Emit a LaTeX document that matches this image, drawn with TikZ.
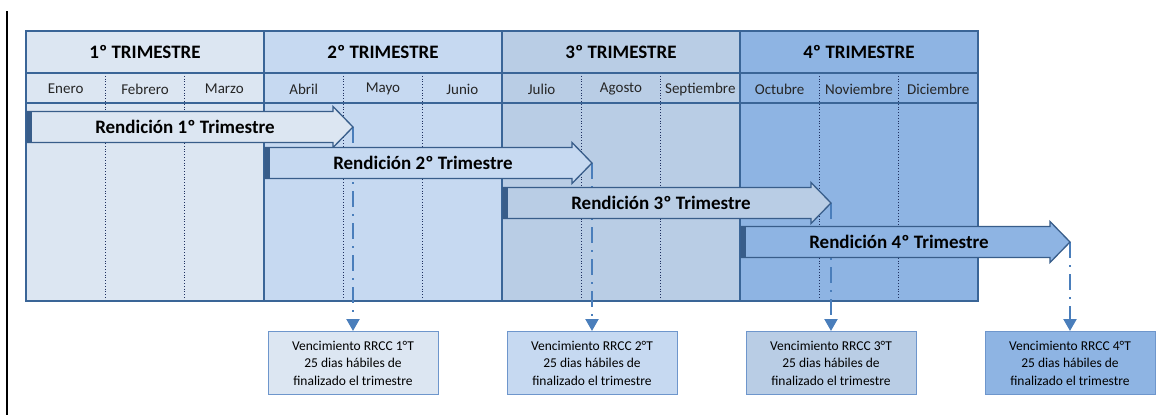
\documentclass[tikz,border=0pt]{standalone}
\usepackage{fontspec}
\setmainfont{Carlito}
\usetikzlibrary{positioning,arrows.meta}
\definecolor{qa}{HTML}{DCE6F2}
\definecolor{qb}{HTML}{C6D9F1}
\definecolor{qc}{HTML}{B9CDE5}
\definecolor{qd}{HTML}{8EB4E3}
\definecolor{gridline}{HTML}{3A6597}
\definecolor{arrline}{HTML}{385D8A}
\definecolor{vline}{HTML}{4A7EBB}
\definecolor{boxline}{HTML}{6E96CC}
\definecolor{monthdiv}{HTML}{1F3060}
\begin{document}
\begin{tikzpicture}[x=1pt,y=-1pt,
  qtitle/.style={font=\bfseries\fontsize{19}{21}\selectfont},
  mname/.style={font=\fontsize{15}{17}\selectfont,text=black!85},
  rlabel/.style={font=\bfseries\fontsize{19}{21}\selectfont},
  rarrow/.style={draw=arrline,line width=1.3pt},
  vto/.style={draw=vline,line width=2.2pt,dash pattern=on 16pt off 7pt on 2pt off 7pt,-{Triangle[width=13pt,length=12pt]}},
  vbox/.style={draw=boxline,line width=1pt,minimum width=170pt,minimum height=63pt,align=center,inner sep=2pt,font=\fontsize{13.5}{17.5}\selectfont}]
\useasboundingbox (0,0) rectangle (1162,415);
\def \w{79.33}

% quarters
\foreach \q/\c [count=\i from 0] in {1/qa,2/qb,3/qc,4/qd}{
\fill[\c] (26+3*\w*\i,31) rectangle (26+3*\w*\i+3*\w,301);
\node[qtitle] (q\q) at (26+3*\w*\i+1.5*\w,52) {\q{}º TRIMESTRE};
}

% months
\foreach \m [count=\k] in {Enero,Febrero,Marzo,Abril,Mayo,Junio,Julio,Agosto,Septiembre,Octubre,Noviembre,Diciembre}{
\node[mname] (m\k) at (26+\w*\k-0.5*\w,89) {\m};
}
\foreach \k in {1,2,4,5,7,8,10,11}{
\draw[monthdiv,dotted,line width=0.8pt] (26+\w*\k,73)--(26+\w*\k,301);
}

% grid
\draw[gridline,line width=2pt] (26,31) rectangle (26+12*\w,301);
\draw[gridline,line width=2pt] (26,73)--(26+12*\w,73);
\draw[gridline,line width=2pt] (26,103)--(26+12*\w,103);
\foreach \k in {3,6,9}{
\draw[gridline,line width=2pt] (26+\w*\k,31)--(26+\w*\k,301);
}

\draw[line width=1.2pt] (7,11)--(7,415);

% vencimientos
\foreach \i/\c/\y in {1/qa/127,2/qb/163,3/qc/203,4/qd/242}{
\pgfmathsetmacro\tip{353+239*(\i-1)}
\coordinate (t\i) at (\tip,\y);
\node[vbox,fill=\c,anchor=north] (v\i) at (\tip,331) {Vencimiento RRCC \i{}°T\\25 dias hábiles de\\finalizado el trimestre};
\draw[vto] (t\i)--(v\i);
}

% rendiciones
\foreach \i/\c/\y in {1/qa/127,2/qb/163,3/qc/203,4/qd/242}{
\pgfmathsetmacro\s{27+238*(\i-1)}
\pgfmathsetmacro\tip{353+239*(\i-1)}
\filldraw[rarrow,fill=\c] (\s,\y-15.5)--(\tip-20,\y-15.5)--(\tip-20,\y-20.5)--(t\i)--(\tip-20,\y+20.5)--(\tip-20,\y+15.5)--(\s,\y+15.5)--cycle;
\fill[arrline] (\s,\y-15.5) rectangle (\s+5,\y+15.5);
\node[rlabel] (r\i) at (\s+158,\y) {Rendición \i{}º Trimestre};
}

\end{tikzpicture}
\end{document}
